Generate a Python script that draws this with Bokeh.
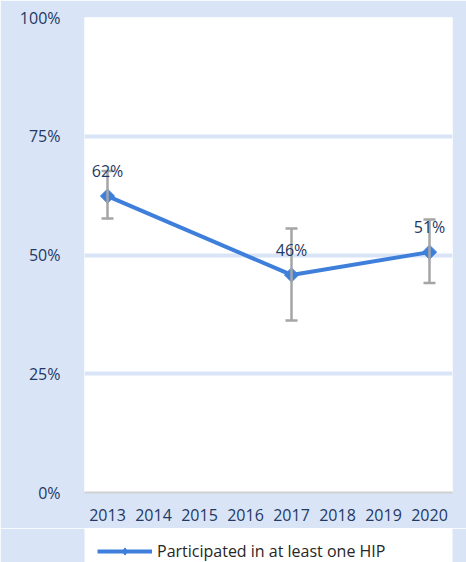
import math
from bokeh.plotting import figure
from bokeh.layouts import column
from bokeh.models import (ColumnDataSource, NumeralTickFormatter, FixedTicker, Legend, LegendItem,
                          Whisker, LabelSet)
from bokeh.core.properties import value
from bokeh.embed import file_html
from bokeh.resources import INLINE

years = ["2013", "2014", "2015", "2016", "2017", "2018", "2019", "2020"]
obs_years = ["2013", "2017", "2020"]
values = [0.624, 0.458, 0.506]
err_upper = [0.677, 0.556, 0.575]
err_lower = [0.577, 0.362, 0.441]
labels = ["62%", "46%", "51%"]
series_name = "Participated in at least one HIP"

BG = "#D9E5F7"
LINE = "#3F7FDC"
TXT = "#1F3864"
FONT = "Open Sans"
FS = "16px"

src = ColumnDataSource(dict(x=obs_years, y=values, upper=err_upper, lower=err_lower, lab=labels))

p = figure(width=466, height=528, x_range=years, y_range=(0, 1),
           output_backend="svg", toolbar_location=None,
           background_fill_color="white", border_fill_color=BG,
           min_border_left=84, min_border_right=14, min_border_top=17, min_border_bottom=36)
p.outline_line_color = None

wh = Whisker(source=src, base="x", upper="upper", lower="lower",
             line_color="#A5A5A5", line_width=2.5, level="glyph")
for h in (wh.upper_head, wh.lower_head):
    h.size = 12
    h.line_color = "#A5A5A5"
    h.line_width = 2.5
p.add_layout(wh)

ln = p.line("x", "y", source=src, line_color=LINE, line_width=4)
mk = p.scatter("x", "y", source=src, marker="square", angle=math.pi / 4, size=10,
               fill_color=LINE, line_color=LINE, line_width=1)

lbl = LabelSet(x="x", y="y", text="lab", source=src, y_offset=25, text_align="center",
               text_baseline="middle", text_font=value(FONT), text_font_size=value(FS),
               text_color=value(TXT))
p.add_layout(lbl)

p.yaxis.ticker = FixedTicker(ticks=[0, 0.25, 0.5, 0.75, 1.0])
p.yaxis.formatter = NumeralTickFormatter(format="0%")
p.ygrid.ticker = FixedTicker(ticks=[0.25, 0.5, 0.75])
p.ygrid.grid_line_color = BG
p.ygrid.grid_line_width = 4
p.xgrid.grid_line_color = None

for ax in (p.xaxis, p.yaxis):
    ax.major_tick_line_color = None
    ax.minor_tick_line_color = None
    ax.major_label_text_font = FONT
    ax.major_label_text_font_size = FS
    ax.major_label_text_color = TXT
p.yaxis.axis_line_color = None
p.yaxis.major_label_standoff = 18
p.xaxis.axis_line_color = "#D0D0D0"
p.xaxis.axis_line_width = 2
p.xaxis.major_label_standoff = 10

# legend strip below the chart (same series, outside its visible range)
p2 = figure(width=466, height=34, x_range=years, y_range=(2, 3),
            output_backend="svg", toolbar_location=None,
            x_axis_location=None, y_axis_location=None,
            min_border_left=84, min_border_right=14, min_border_top=0, min_border_bottom=0,
            background_fill_alpha=0, border_fill_color=BG)
p2.outline_line_color = None
p2.grid.visible = False
l2 = p2.line("x", "y", source=src, line_color=LINE, line_width=4)
m2 = p2.scatter("x", "y", source=src, marker="diamond", size=10,
                fill_color=LINE, line_color=LINE)
legend = Legend(items=[LegendItem(label=series_name, renderers=[l2, m2])],
                location=(13, 0), orientation="horizontal",
                background_fill_alpha=0, border_line_color=None,
                label_text_font=FONT, label_text_font_size=FS, label_text_color="#262626",
                glyph_width=55, glyph_height=18, label_standoff=5, padding=0, margin=0)
p2.add_layout(legend)

open("out.html", "w").write(file_html(column(p, p2), INLINE))
